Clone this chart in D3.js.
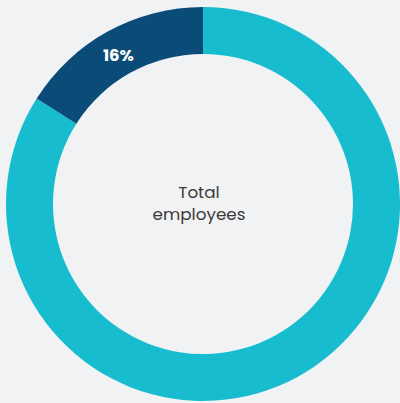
<!DOCTYPE html>
<html><head><meta charset="utf-8">
<script src="https://cdn.jsdelivr.net/npm/d3@7"></script>
<style>html,body{margin:0;padding:0;background:#f1f2f4;overflow:hidden}</style>
</head><body>
<svg id="c" width="400" height="403"></svg>
<script>
const categories = ["Other", "Highlighted"];
const values = [84, 16];
const labels = ["", "16%"];
const colors = ["#17bccf", "#0b4b78"];
const centerLines = ["Total", "employees"];

const svg = d3.select("#c");
const cx = 203, cy = 204, rOuter = 197, rInner = 150;
const g = svg.append("g").attr("transform", `translate(${cx},${cy})`);
const pie = d3.pie().sort(null).value(d => d.v);
const data = categories.map((c, i) => ({c, v: values[i], l: labels[i], col: colors[i]}));
const arcs = pie(data);
const arc = d3.arc().innerRadius(rInner).outerRadius(rOuter);
g.selectAll("path").data(arcs).join("path").attr("d", arc).attr("fill", d => d.data.col);
g.selectAll("text.lbl").data(arcs.filter(d => d.data.l)).join("text")
  .attr("class", "lbl")
  .attr("transform", d => { const c = arc.centroid(d); return `translate(${c[0] - 1},${c[1] + 3})`; })
  .attr("text-anchor", "middle").attr("dy", "0.36em")
  .attr("fill", "#fff").attr("font-family", "Poppins, 'Open Sans', 'Noto Sans', sans-serif")
  .attr("font-weight", 700).attr("font-size", 16.5)
  .text(d => d.data.l);
g.selectAll("text.ctr").data(centerLines).join("text")
  .attr("class", "ctr").attr("text-anchor", "middle")
  .attr("x", -4).attr("y", (d, i) => -6 + i * 22)
  .attr("fill", "#3a3a3a").attr("font-family", "Poppins, 'Open Sans', 'Noto Sans', sans-serif")
  .attr("font-size", 16.8)
  .text(d => d);
</script>
</body></html>
